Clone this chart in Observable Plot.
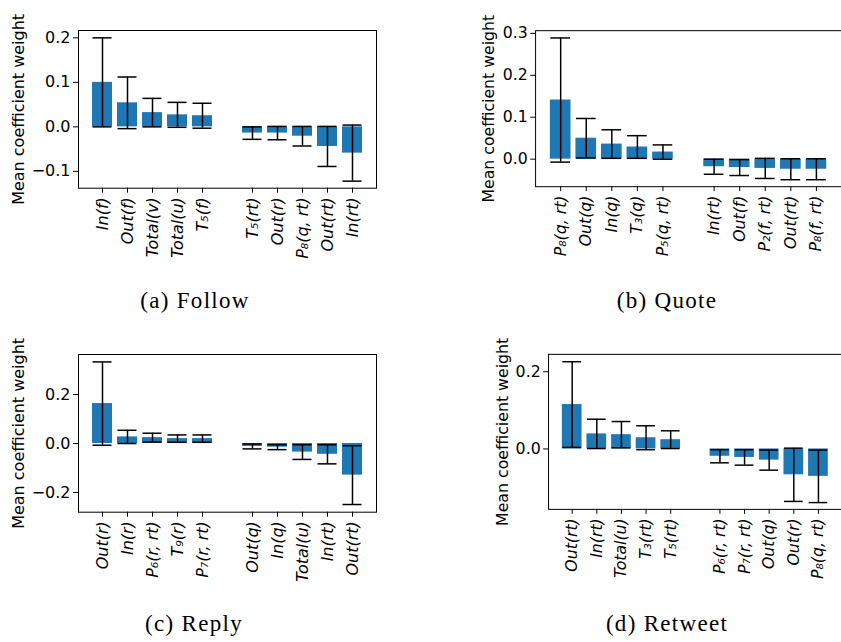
<!DOCTYPE html>
<html><head><meta charset="utf-8">
<script src="https://cdn.jsdelivr.net/npm/d3@7"></script>
<script src="https://cdn.jsdelivr.net/npm/@observablehq/plot@0.6"></script>
<style>
html,body{margin:0;padding:0;background:#fff}
body{width:841px;height:642px;overflow:hidden;position:relative}
.panel{position:absolute}
.panel svg{overflow:visible}
.panel svg text{font-family:"DejaVu Sans",sans-serif !important;font-size:16px !important;fill:#000}
.cap{position:absolute;font-family:"Liberation Serif","Times New Roman",serif;font-size:23px;letter-spacing:1.3px;transform:translate(-50%,-50%);white-space:nowrap;color:#000}
</style></head><body>
<script>
// ---- data ----
const yLabel = "Mean coefficient weight";

const followLabels = ["In(f)","Out(f)","Total(v)","Total(u)","T₅(f)","T₅(rt)","Out(r)","P₈(q, rt)","Out(rt)","In(rt)"];
const followMean = [0.100, 0.054, 0.032, 0.027, 0.025, -0.014, -0.014, -0.021, -0.044, -0.059];
const followErr  = [0.100, 0.058, 0.032, 0.028, 0.028, 0.014, 0.015, 0.022, 0.045, 0.063];
const followTicks = [-0.1, 0.0, 0.1, 0.2];

const quoteLabels = ["P₈(q, rt)","Out(q)","In(q)","T₃(q)","P₅(q, rt)","In(rt)","Out(f)","P₂(f, rt)","Out(rt)","P₈(f, rt)"];
const quoteMean = [0.141, 0.050, 0.036, 0.029, 0.017, -0.018, -0.020, -0.022, -0.024, -0.024];
const quoteErr  = [0.148, 0.047, 0.034, 0.027, 0.017, 0.018, 0.019, 0.024, 0.025, 0.025];
const quoteTicks = [0.0, 0.1, 0.2, 0.3];

const replyLabels = ["Out(r)","In(r)","P₆(r, rt)","T₉(r)","P₇(r, rt)","Out(q)","In(q)","Total(u)","In(rt)","Out(rt)"];
const replyMean = [0.163, 0.027, 0.024, 0.020, 0.020, -0.012, -0.015, -0.035, -0.044, -0.129];
const replyErr  = [0.170, 0.027, 0.018, 0.015, 0.015, 0.010, 0.010, 0.030, 0.039, 0.120];
const replyTicks = [-0.2, 0.0, 0.2];

const retweetLabels = ["Out(rt)","In(rt)","Total(u)","T₃(rt)","T₅(rt)","P₆(r, rt)","P₇(r, rt)","Out(q)","Out(r)","P₈(q, rt)"];
const retweetMean = [0.115, 0.039, 0.037, 0.029, 0.024, -0.019, -0.022, -0.029, -0.067, -0.071];
const retweetErr  = [0.111, 0.038, 0.034, 0.031, 0.023, 0.017, 0.020, 0.026, 0.069, 0.068];
const retweetTicks = [0.0, 0.2];

const captions = ["(a) Follow", "(b) Quote", "(c) Reply", "(d) Retweet"];

// ---- layout ----
function panel(cfg) {
  const data = cfg.labels.map((l, i) => ({label: l, mean: cfg.mean[i], err: cfg.err[i]}));
  const domain = [...cfg.labels.slice(0, 5), " ", ...cfg.labels.slice(5)];
  const width = cfg.marginLeft + cfg.plotWidth + cfg.marginRight;
  const height = cfg.marginTop + cfg.plotHeight + cfg.marginBottom;
  const chart = Plot.plot({
    width, height,
    marginLeft: cfg.marginLeft, marginRight: cfg.marginRight,
    marginTop: cfg.marginTop, marginBottom: cfg.marginBottom,
    style: {fontFamily: "'DejaVu Sans', sans-serif", fontSize: "16px", color: "#000", background: "transparent", overflow: "visible"},
    x: {type: "band", domain, paddingInner: 0.2, paddingOuter: 0.54, align: 0.5},
    y: {domain: cfg.yDomain},
    marks: [
      Plot.barY(data, {x: "label", y: "mean", fill: "#1f77b4"}),
      Plot.ruleX(data, {x: "label", y1: d => d.mean - d.err, y2: d => d.mean + d.err, stroke: "#000", strokeWidth: 1.5}),
      Plot.tickY(data, {x: "label", y: d => d.mean - d.err, stroke: "#000", strokeWidth: 1.5, inset: 0.5}),
      Plot.tickY(data, {x: "label", y: d => d.mean + d.err, stroke: "#000", strokeWidth: 1.5, inset: 0.5}),
      Plot.frame({stroke: "#000", strokeWidth: 1}),
      Plot.axisX({ticks: cfg.labels, tickRotate: -90, tickSize: 5, tickPadding: 4, label: null, fontStyle: "italic", fontSize: 16}),
      Plot.axisY({ticks: cfg.yTicks, tickFormat: ".1f", tickSize: 5, tickPadding: 3, label: null, fontSize: 16}),
      Plot.text([yLabel], {text: d => d, frameAnchor: "left", textAnchor: "middle", rotate: -90, dx: cfg.labelDx, fontSize: 16})
    ]
  });
  d3.select(chart).selectAll('[aria-label="x-axis tick label"] text').style("font-style", "italic");
  const div = document.createElement("div");
  div.className = "panel";
  div.style.left = cfg.left + "px";
  div.style.top = cfg.top + "px";
  div.appendChild(chart);
  document.body.appendChild(div);

  const cap = document.createElement("div");
  cap.className = "cap";
  cap.textContent = cfg.caption;
  cap.style.left = cfg.capX + "px";
  cap.style.top = cfg.capY + "px";
  document.body.appendChild(cap);
}

panel({labels: followLabels, mean: followMean, err: followErr, yTicks: followTicks,
  yDomain: [-0.1378, 0.2165], left: 0, top: 0, marginLeft: 78, plotWidth: 298, marginRight: 44,
  marginTop: 30, plotHeight: 157.7, marginBottom: 90, labelDx: -60,
  caption: captions[0], capX: 195, capY: 301});

panel({labels: quoteLabels, mean: quoteMean, err: quoteErr, yTicks: quoteTicks,
  yDomain: [-0.0656, 0.3063], left: 420, top: 0, marginLeft: 117, plotWidth: 311, marginRight: 0,
  marginTop: 30.7, plotHeight: 158.6, marginBottom: 90, labelDx: -47,
  caption: captions[1], capX: 667, capY: 301});

panel({labels: replyLabels, mean: replyMean, err: replyErr, yTicks: replyTicks,
  yDomain: [-0.2803, 0.3633], left: 0, top: 324, marginLeft: 78, plotWidth: 298, marginRight: 44,
  marginTop: 30, plotHeight: 157.7, marginBottom: 90, labelDx: -60,
  caption: captions[2], capX: 194, capY: 624});

panel({labels: retweetLabels, mean: retweetMean, err: retweetErr, yTicks: retweetTicks,
  yDomain: [-0.1566, 0.2451], left: 420, top: 324, marginLeft: 130, plotWidth: 297.4, marginRight: 0,
  marginTop: 30.3, plotHeight: 157.4, marginBottom: 90, labelDx: -46,
  caption: captions[3], capX: 667, capY: 624});
</script>
</body></html>
